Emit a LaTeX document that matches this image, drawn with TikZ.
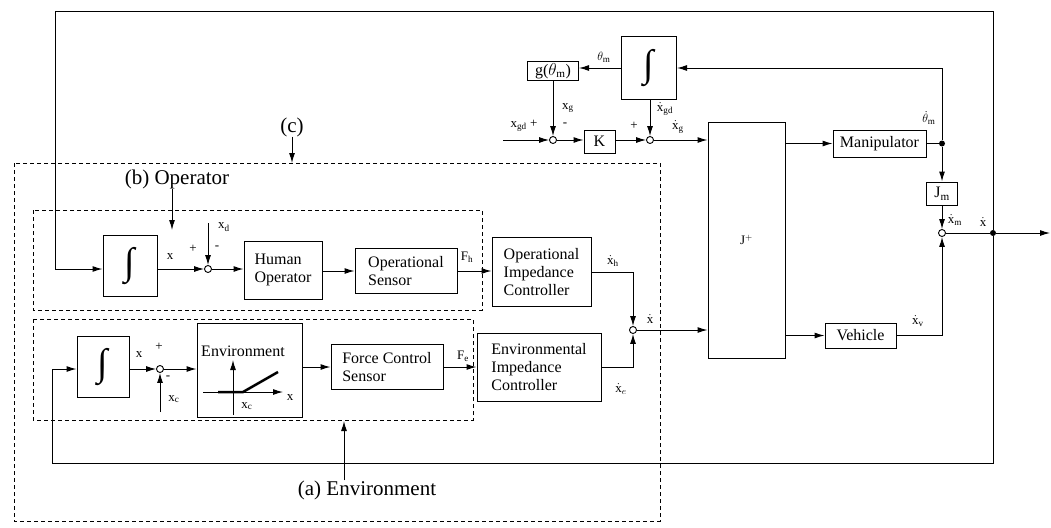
\documentclass[tikz,border=0pt]{standalone}
\usepackage{fontspec}
\setmainfont{Liberation Serif}
\usetikzlibrary{arrows.meta}
\newcommand{\myint}{\fontsize{38}{38}\selectfont ∫}
\newcommand{\xx}{\mathrm{x}}
\begin{document}
\begin{tikzpicture}[x=1pt,y=-1pt,
  blk/.style={draw, line width=1pt, inner sep=0pt, align=left, font=\fontsize{16}{18}\selectfont},
  sumn/.style={draw, circle, line width=0.9pt, minimum size=7pt, inner sep=0pt, fill=white},
  dotn/.style={circle, fill, minimum size=6pt, inner sep=0pt},
  lbl/.style={inner sep=0pt, font=\fontsize{13}{15}\selectfont},
  big/.style={inner sep=0pt, font=\fontsize{21}{24}\selectfont},
  sig/.style={line width=1pt, -{Latex[length=10pt,width=6pt]}},
  wire/.style={line width=1pt},
  grp/.style={draw, line width=0.9pt, dash pattern=on 4pt off 3pt}]
\useasboundingbox (0,0) rectangle (1051,527);

% dashed groups
\draw[grp] (14,163) rectangle (660,521);
\draw[grp] (33,210) rectangle (482,310);
\draw[grp] (33,319) rectangle (473,420);

% top section
\node[blk, minimum width=55pt, minimum height=62pt] (intT) at (649,68) {\myint};
\node[blk, minimum width=51pt, minimum height=19pt, align=center] (gth) at (553,71) {g($\theta_{\mathrm{m}}$)};
\node[sumn] (s1) at (553,140) {};
\node[blk, minimum width=31pt, minimum height=23pt, align=center] (K) at (599.5,141.5) {K};
\node[sumn] (s2) at (650,140) {};
\node[blk, minimum width=77pt, minimum height=236pt, align=center, font=\fontsize{13}{15}\selectfont] (Jp) at (746.5,240) {J$^{+}$};
\node[blk, minimum width=93pt, minimum height=27pt, align=center] (man) at (879.5,143.5) {Manipulator};
\node[dotn] (dth) at (942,143.5) {};
\node[blk, minimum width=31pt, minimum height=23pt, align=center] (Jm) at (942,193.5) {J$_{\mathrm{m}}$};
\node[sumn] (sR) at (942,233) {};
\node[dotn] (dX) at (993,233) {};
\node[blk, minimum width=71pt, minimum height=25pt, align=center] (veh) at (860.5,335.5) {Vehicle};
\node[sumn] (sX) at (633,330) {};

% operator row
\node[blk, minimum width=54pt, minimum height=61pt] (intB) at (130,266) {\myint};
\node[sumn] (sB) at (208,269) {};
\node[blk, minimum width=78pt, minimum height=58pt] (HO) at (283,270) {Human\\Operator};
\node[blk, minimum width=102pt, minimum height=45pt] (OS) at (406,271) {Operational\\Sensor};
\node[blk, minimum width=99pt, minimum height=69pt] (OIC) at (541.5,272) {Operational\\Impedance\\Controller};

% environment row
\node[blk, minimum width=52pt, minimum height=61pt] (intA) at (103,367) {\myint};
\node[sumn] (sA) at (160,369) {};
\node[blk, minimum width=105pt, minimum height=94pt] (env) at (249.5,370) {};
\node[blk, minimum width=112pt, minimum height=45pt] (FCS) at (387,367) {Force Control\\Sensor};
\node[blk, minimum width=124pt, minimum height=68pt] (EIC) at (539,367) {Environmental\\Impedance\\Controller};

% environment characteristic
\node[inner sep=0pt, font=\fontsize{16}{18}\selectfont] (envT) at (243,351) {Environment};
\draw[sig] (233,415) -- (233,360);
\draw[sig] (203,392) -- (283,392);
\draw[line width=2.5pt] (218,392) -- (243,392) -- (278,372);
\node[lbl] (lxc2) at (247,406) {$\xx_{\mathrm{c}}$};
\node[lbl] (lx3) at (290,398) {$\xx$};

% coordinates
\coordinate (xgdin) at (503,140);
\coordinate (outEnd) at (1050,233);
\coordinate (tr) at (993,12);
\coordinate (tl) at (55,12);
\coordinate (br) at (993,463);
\coordinate (bl) at (52,463);
\coordinate (xdin) at (208,223);
\coordinate (xcin) at (160,412);

% top connectors
\draw[sig] (intT.west) -- (intT.west -| gth.east);
\draw[sig] (gth.south) -- (s1.north);
\draw[sig] (xgdin) -- (s1.west);
\draw[sig] (s1.east) -- (s1.east -| K.west);
\draw[sig] (K.east |- s2) -- (s2.west);
\draw[sig] (s2 |- intT.south) -- (s2.north);
\draw[sig] (s2.east) -- (s2.east -| Jp.west);
\draw[sig] (Jp.east |- man) -- (man.west);
\draw[wire] (man.east) -- (dth);
\draw[sig] (dth) -- (dth |- intT.east) -- (intT.east);
\draw[sig] (dth) -- (Jm.north);
\draw[sig] (Jm.south) -- (sR.north);
\draw[sig] (Jp.east |- veh) -- (veh.west);
\draw[sig] (veh.east) -| (sR.south);
\draw[wire] (sR.east) -- (dX);
\draw[sig] (dX) -- (outEnd);

% outer feedback loops
\draw[sig] (dX) -- (tr) -- (tl) -- (tl |- sB) -- (intB.west |- sB);
\draw[sig] (dX) -- (br) -- (bl) -- (bl |- sA) -- (intA.west |- sA);

% operator row connectors
\draw[sig] (intB.east |- sB) -- (sB.west);
\draw[sig] (xdin) -- (sB.north);
\draw[sig] (sB.east) -- (sB.east -| HO.west);
\draw[sig] (HO.east |- OS) -- (OS.west);
\draw[sig] (OS.east) -- (OS.east -| OIC.west);
\draw[sig] (OIC.east) -| (sX.north);

% environment row connectors
\draw[sig] (intA.east |- sA) -- (sA.west);
\draw[sig] (xcin) -- (sA.south);
\draw[sig] (sA.east) -- (sA.east -| env.west);
\draw[sig] (env.east |- FCS) -- (FCS.west);
\draw[sig] (FCS.east) -- (FCS.east -| EIC.west);
\draw[sig] (EIC.east) -| (sX.south);
\draw[sig] (sX.east) -- (sX.east -| Jp.west);

% group labels
\node[big] (labC) at (292,127) {(c)};
\coordinate (cArr) at (292,163);
\draw[sig] (labC.south) -- (cArr);
\node[big] (labB) at (177,179) {(b) Operator};
\coordinate (bArr) at (172,230);
\draw[sig] (labB.south -| bArr) -- (bArr);
\node[big] (labA) at (367,490) {(a) Environment};
\coordinate (aArr) at (344,421);
\draw[sig] (labA.north -| aArr) -- (aArr);

% signal labels
\node[lbl] (l1) at (170,257) {$\xx$};
\node[lbl] (l2) at (224,227) {$\xx_{\mathrm{d}}$};
\node[lbl] (l3) at (193,249) {+};
\node[lbl] (l4) at (217,248) {-};
\node[lbl] (l5) at (467,257) {F$_{\mathrm{h}}$};
\node[lbl] (l6) at (613,261) {$\dot{\xx}_{\mathrm{h}}$};
\node[lbl] (l7) at (650,319) {$\dot{\xx}$};
\node[lbl] (l8) at (139,355) {$\xx$};
\node[lbl] (l9) at (159,347) {+};
\node[lbl] (l10) at (168,378) {-};
\node[lbl] (l11) at (174,399) {$\xx_{\mathrm{c}}$};
\node[lbl] (l12) at (463,356) {F$_{\mathrm{e}}$};
\node[lbl] (l13) at (621,389) {$\dot{\xx}_{e}$};
\node[lbl] (l14) at (604,57) {$\theta_{\mathrm{m}}$};
\node[lbl] (l15) at (568,108) {$\xx_{\mathrm{g}}$};
\node[lbl] (l16) at (565,125) {-};
\node[lbl] (l17) at (524,126) {$\xx_{\mathrm{gd}}$ +};
\node[lbl] (l18) at (634,126) {+};
\node[lbl] (l19) at (665,109) {$\dot{\xx}_{\mathrm{gd}}$};
\node[lbl] (l20) at (678,127) {$\dot{\xx}_{\mathrm{g}}$};
\node[lbl] (l21) at (929,118) {$\dot{\theta}_{\mathrm{m}}$};
\node[lbl] (l22) at (955,220) {$\dot{\xx}_{\mathrm{m}}$};
\node[lbl] (l23) at (983,222) {$\dot{\xx}$};
\node[lbl] (l24) at (918,321) {$\dot{\xx}_{\mathrm{v}}$};
\end{tikzpicture}
\end{document}
